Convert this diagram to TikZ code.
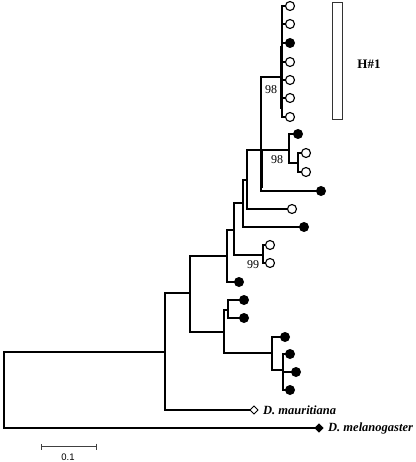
\documentclass[tikz,border=0pt]{standalone}
\usepackage{fontspec}
\setmainfont{Liberation Serif}
\newfontfamily\sansf{Liberation Sans}
\usetikzlibrary{shapes.geometric,arrows.meta}
\tikzset{
  br/.style={line width=1.8pt, line cap=rect},
  fdot/.style={circle, fill=black, inner sep=0pt, minimum size=10pt},
  odot/.style={circle, draw=black, fill=white, line width=1.1pt, inner sep=0pt, minimum size=9pt},
  odiam/.style={diamond, draw=black, fill=white, line width=0.9pt, inner sep=0pt, minimum size=8.5pt},
  fdiam/.style={diamond, fill=black, inner sep=0pt, minimum size=9.5pt},
  boot/.style={font=\fontsize{12}{12}\selectfont, inner sep=0pt},
  sp/.style={font=\fontsize{12.5}{12.5}\selectfont\bfseries\itshape, anchor=west, inner sep=0pt},
  inode/.style={coordinate}
}
\begin{document}
\begin{tikzpicture}[x=1pt,y=-1pt]
\useasboundingbox (0,0) rectangle (415,462);
% internal nodes
\coordinate (R) at (4,390);
\coordinate (n1) at (165,352);
\coordinate (n2) at (190,293);
\coordinate (nL) at (224,332);
\coordinate (cl) at (228,310);
\coordinate (nM) at (272,353);
\coordinate (nP) at (283,370);
\coordinate (nB) at (227,256);
\coordinate (nC) at (234,230);
\coordinate (n99) at (263,255);
\coordinate (nD) at (243,203);
\coordinate (nE) at (247,180);
\coordinate (nF) at (261,150);
\coordinate (nG) at (289,150);
\coordinate (nG2) at (298,163);
\coordinate (nH) at (282,77);
% leaves
\node[fdiam] (mel) at (319,428) {};
\node[odiam] (maur) at (254,410) {};
\node[sp] (mellab) at (328,428) {D. melanogaster};
\node[sp] (maurlab) at (263,410) {D. mauritiana};
\node[fdot] (c1) at (244,300) {};
\node[fdot] (c2) at (244,318) {};
\node[fdot] (m1) at (285,337) {};
\node[fdot] (p1) at (290,354) {};
\node[fdot] (p2) at (296,372) {};
\node[fdot] (p3) at (290,390) {};
\node[fdot] (b1) at (239,282) {};
\node[odot] (q1) at (270,245) {};
\node[odot] (q2) at (270,263) {};
\node[fdot] (d1) at (304,227) {};
\node[odot] (e1) at (292,209) {};
\node[fdot] (f1) at (321,191) {};
\node[fdot] (g1) at (298,134) {};
\node[odot] (g2) at (306,153) {};
\node[odot] (g3) at (306,172) {};
\node[odot] (h1) at (290,6) {};
\node[odot] (h2) at (290,24) {};
\node[fdot] (h3) at (290,43) {};
\node[odot] (h4) at (290,62) {};
\node[odot] (h5) at (290,80) {};
\node[odot] (h6) at (290,98) {};
\node[odot] (h7) at (290,117) {};
% branches
\draw[br] (R) |- (n1);
\draw[br] (R) |- (mel.west);
\draw[br] (n1) |- (n2);
\draw[br] (n1) |- (maur.west);
\draw[br] (n2) |- (nB);
\draw[br] (n2) |- (nL);
\draw[br] (nL) |- (cl);
\draw[br] (nL) |- (nM);
\draw[br] (cl) |- (c1.west);
\draw[br] (cl) |- (c2.west);
\draw[br] (nM) |- (m1.west);
\draw[br] (nM) |- (nP);
\draw[br] (nP) |- (p1.west);
\draw[br] (nP) |- (p2.west);
\draw[br] (nP) |- (p3.west);
\draw[br] (nB) |- (nC);
\draw[br] (nB) |- (b1.west);
\draw[br] (nC) |- (nD);
\draw[br] (nC) |- (n99);
\draw[br] (n99) |- (q1.west);
\draw[br] (n99) |- (q2.west);
\draw[br] (nD) |- (nE);
\draw[br] (nD) |- (d1.west);
\draw[br] (nE) |- (nF);
\draw[br] (nE) |- (e1.west);
\draw[br] (nF) |- (nH);
\draw[br] (nF) |- (nG);
\draw[br] (nF) |- (f1.west);
\draw[line width=3pt] ([yshift=-38pt]nF) -- (nF);
\draw[br] (nG) |- (g1.west);
\draw[br] (nG) |- (nG2);
\draw[br] (nG2) |- (g2.west);
\draw[br] (nG2) |- (g3.west);
\foreach \h in {h1,h2,h3,h4,h5,h6,h7}{\draw[br] (nH) |- (\h.west);}
\draw[line width=3pt] ([xshift=-1pt,yshift=-32pt]nH) -- ([xshift=-1pt,yshift=31pt]nH);
% bootstrap labels
\node[boot] (bs1) at (271,90) {98};
\node[boot] (bs2) at (277,159.5) {98};
\node[boot] (bs3) at (253,264.5) {99};
% H#1 box
\node[draw=black!80, line width=0.9pt, minimum width=10pt, minimum height=116.5pt, inner sep=0pt] (hbox) at (337.5,60.75) {};
\node[font=\fontsize{13}{13}\selectfont\bfseries, inner sep=0pt] (hlab) at (369,64) {H\#1};
% scale bar
\coordinate (sb1) at (41,446.7);
\coordinate (sb2) at (97,446.7);
\draw[black!75, line width=1pt, {Bar[width=6pt]}-{Bar[width=6pt]}] (sb1) -- (sb2);
\node[font=\sansf\fontsize{9.5}{9.5}\selectfont, inner sep=0pt] (sblab) at (68,457) {0.1};
\end{tikzpicture}
\end{document}
